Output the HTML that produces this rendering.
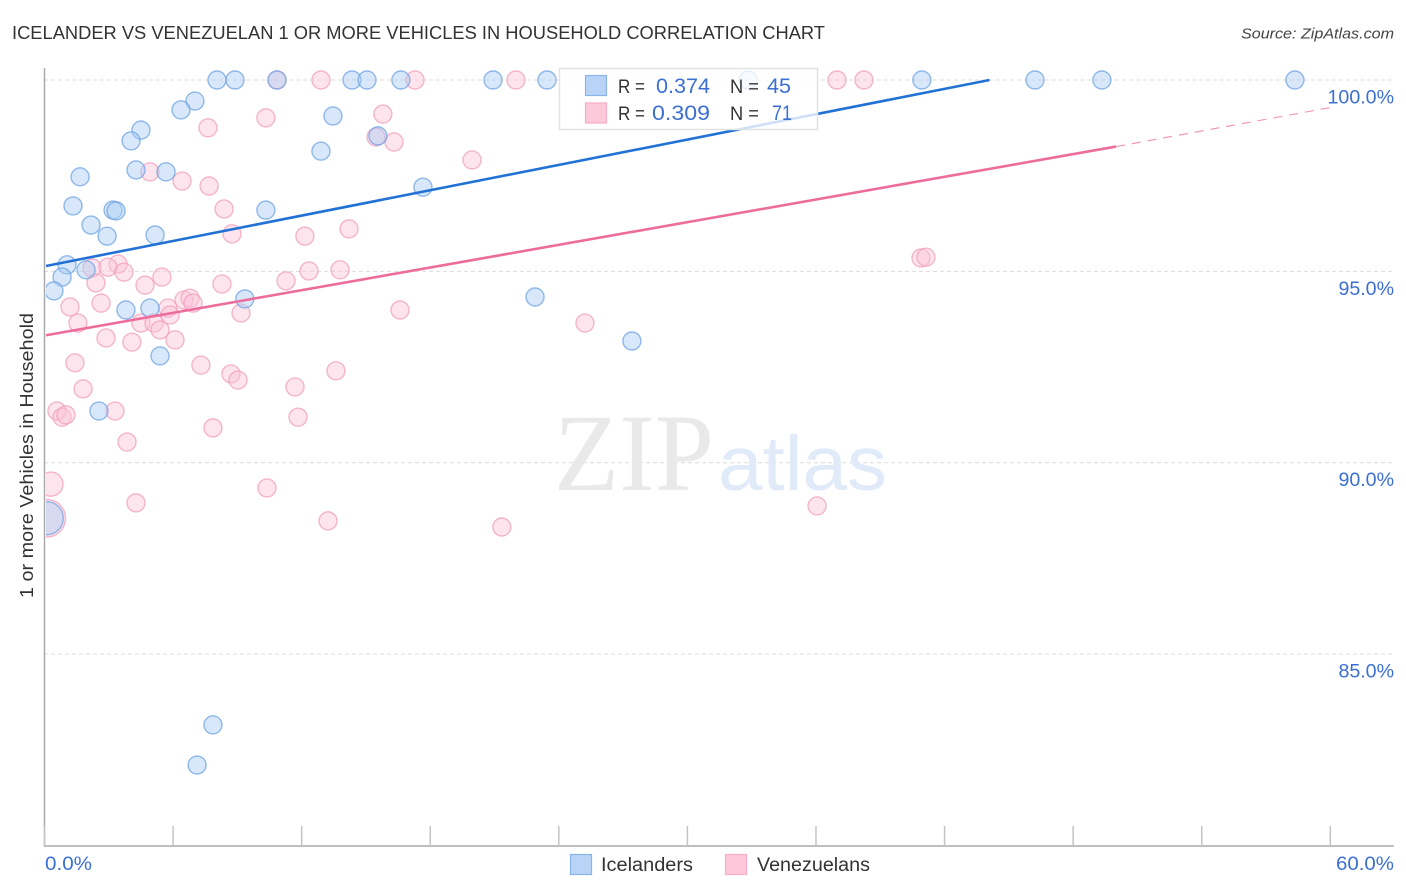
<!DOCTYPE html>
<html lang="en">
<head>
<meta charset="utf-8">
<title>Icelander vs Venezuelan chart</title>
<style>
html,body{margin:0;padding:0;background:#fff;}
body{width:1406px;height:892px;overflow:hidden;}
svg{display:block;font-family:"Liberation Sans",sans-serif;}
</style>
</head>
<body>
<svg id="chart" width="1406" height="892" viewBox="0 0 1406 892" xmlns="http://www.w3.org/2000/svg">
  <defs>
    <clipPath id="plot-clip"><rect x="46" y="60" width="1350" height="786"/></clipPath>
  </defs>
  <text x="12" y="39" font-size="18.5" fill="#333" textLength="813" lengthAdjust="spacingAndGlyphs">ICELANDER VS VENEZUELAN 1 OR MORE VEHICLES IN HOUSEHOLD CORRELATION CHART</text>
  <text x="1241" y="38.5" font-size="15" font-style="italic" fill="#444" textLength="153" lengthAdjust="spacingAndGlyphs">Source: ZipAtlas.com</text>

  <g id="grid"></g>

  <g>
    <text x="554" y="490" font-family="'Liberation Serif',serif" font-size="110" fill="#e9e9e9" textLength="160" lengthAdjust="spacingAndGlyphs">ZIP</text>
    <text x="718" y="490" font-size="77" fill="#e0eaf8" textLength="169" lengthAdjust="spacingAndGlyphs">atlas</text>
  </g>

  <g id="points" clip-path="url(#plot-clip)"></g>
  <g id="trends"></g>

  <line x1="44.5" y1="68" x2="44.5" y2="846" stroke="#aaa" stroke-width="1.5"/>
  <line x1="44" y1="846" x2="1394" y2="846" stroke="#aaa" stroke-width="1.5"/>
  <g id="xticks"></g>
  <g id="ylabels"></g>

  <text x="45" y="870" font-size="19" fill="#3b6fd4" textLength="47" lengthAdjust="spacingAndGlyphs">0.0%</text>
  <text x="1336" y="870" font-size="19" fill="#3b6fd4" textLength="58" lengthAdjust="spacingAndGlyphs">60.0%</text>
  <text transform="translate(33,598) rotate(-90)" font-size="18.5" fill="#333" textLength="285" lengthAdjust="spacingAndGlyphs">1 or more Vehicles in Household</text>

  <g>
    <rect x="559.5" y="68.5" width="258" height="61" fill="#fff" fill-opacity="0.78" stroke="#e2e2e2" stroke-width="1.5"/>
    <rect x="585.5" y="75.5" width="21" height="20" fill="#b8d3f6" stroke="#8ab3e8" stroke-width="1.2"/>
    <rect x="585.5" y="103" width="21" height="20" fill="#fdc9da" stroke="#f5aec6" stroke-width="1.2"/>
    <text x="618" y="93" font-size="19" fill="#333" textLength="27" lengthAdjust="spacingAndGlyphs">R =</text>
    <text x="656" y="93" font-size="21" fill="#3b6fd4" textLength="54" lengthAdjust="spacingAndGlyphs">0.374</text>
    <text x="730" y="93" font-size="19" fill="#333" textLength="29" lengthAdjust="spacingAndGlyphs">N =</text>
    <text x="767" y="93" font-size="21" fill="#3b6fd4" textLength="24" lengthAdjust="spacingAndGlyphs">45</text>
    <text x="618" y="120" font-size="19" fill="#333" textLength="27" lengthAdjust="spacingAndGlyphs">R =</text>
    <text x="652" y="120" font-size="21" fill="#3b6fd4" textLength="58" lengthAdjust="spacingAndGlyphs">0.309</text>
    <text x="730" y="120" font-size="19" fill="#333" textLength="29" lengthAdjust="spacingAndGlyphs">N =</text>
    <text x="772" y="120" font-size="21" fill="#3b6fd4" textLength="20" lengthAdjust="spacingAndGlyphs">71</text>
  </g>

  <g>
    <rect x="570.5" y="854.5" width="21" height="20" fill="#b8d3f6" stroke="#8ab3e8" stroke-width="1.2"/>
    <text x="601" y="871" font-size="19" fill="#333" textLength="92" lengthAdjust="spacingAndGlyphs">Icelanders</text>
    <rect x="725.5" y="854.5" width="21" height="20" fill="#fdc9da" stroke="#f5aec6" stroke-width="1.2"/>
    <text x="757" y="871" font-size="19" fill="#333" textLength="113" lengthAdjust="spacingAndGlyphs">Venezuelans</text>
  </g>
</svg>

<script>
const yTickValues = [100, 95, 90, 85];
const yTickLabels = ['100.0%', '95.0%', '90.0%', '85.0%'];
const xTickValues = [0, 6, 12, 18, 24, 30, 36, 42, 48, 54, 60];

const blueX = [8.05, 8.89, 10.85, 14.35, 15.05, 16.63, 20.93, 23.45, 32.83, 40.94, 46.22, 49.34, 58.35, 7.02, 6.37, 13.46, 4.50, 4.04, 12.90, 15.56, 4.27, 5.67, 1.66, 17.66, 1.33, 3.20, 3.34, 10.33, 2.17, 2.92, 5.16, 1.05, 1.94, 0.82, 0.44, 9.35, 22.89, 3.80, 4.92, 27.41, 5.39, 2.54, 0.10, 7.86, 7.12];
const blueY = [100, 100, 100, 100, 100, 100, 100, 100, 100, 100, 100, 100, 100, 99.45, 99.22, 99.06, 98.69, 98.41, 98.14, 98.54, 97.65, 97.60, 97.47, 97.20, 96.71, 96.60, 96.58, 96.60, 96.21, 95.92, 95.95, 95.17, 95.04, 94.85, 94.49, 94.28, 94.33, 93.99, 94.04, 93.18, 92.79, 91.35, 88.55, 83.15, 82.10];
const blueWeight = [1, 1, 1, 1, 1, 1, 1, 1, 1, 1, 1, 1, 1, 1, 1, 1, 1, 1, 1, 1, 1, 1, 1, 1, 1, 1, 1, 1, 1, 1, 1, 1, 1, 1, 1, 1, 1, 1, 1, 1, 1, 1, 3.4, 1, 1];

const pinkX = [10.85, 12.90, 17.29, 22.00, 36.98, 38.24, 15.79, 10.33, 7.63, 15.47, 16.31, 19.95, 4.92, 6.42, 7.68, 8.38, 14.21, 8.75, 12.15, 3.43, 2.22, 2.96, 3.71, 12.34, 13.79, 40.90, 41.13, 5.48, 11.27, 4.69, 2.40, 8.28, 1.19, 2.64, 6.51, 6.79, 6.93, 5.76, 5.86, 9.17, 16.59, 1.56, 4.50, 5.11, 5.39, 25.22, 2.87, 4.08, 6.09, 7.30, 1.42, 13.60, 8.70, 9.03, 11.69, 1.80, 0.58, 0.82, 1.00, 3.29, 11.83, 7.86, 3.85, 10.38, 0.30, 4.27, 13.23, 21.34, 36.05, 0.10];
const pinkY = [100, 100, 100, 100, 100, 100, 99.11, 99.01, 98.75, 98.51, 98.38, 97.91, 97.60, 97.36, 97.23, 96.63, 96.11, 95.98, 95.92, 95.19, 95.09, 95.11, 94.98, 95.01, 95.04, 95.35, 95.37, 94.85, 94.75, 94.64, 94.70, 94.67, 94.07, 94.17, 94.25, 94.30, 94.17, 94.04, 93.86, 93.91, 93.99, 93.65, 93.65, 93.65, 93.47, 93.65, 93.26, 93.15, 93.21, 92.55, 92.61, 92.40, 92.32, 92.16, 91.98, 91.93, 91.35, 91.19, 91.25, 91.35, 91.19, 90.91, 90.54, 89.34, 89.44, 88.95, 88.48, 88.32, 88.87, 88.55];
const pinkWeight = [1, 1, 1, 1, 1, 1, 1, 1, 1, 1, 1, 1, 1, 1, 1, 1, 1, 1, 1, 1, 1, 1, 1, 1, 1, 1, 1, 1, 1, 1, 1, 1, 1, 1, 1, 1, 1, 1, 1, 1, 1, 1, 1, 1, 1, 1, 1, 1, 1, 1, 1, 1, 1, 1, 1, 1, 1, 1, 1, 1, 1, 1, 1, 1, 1.8, 1, 1, 1, 1, 4.4];

const blueTrendX = [0.07, 44.1];
const blueTrendY = [95.14, 100];
const pinkTrendX = [0.07, 50.0];
const pinkTrendY = [93.33, 98.26];
const pinkTrendDashX = [50.0, 60.0];
const pinkTrendDashY = [98.26, 99.28];

const xScale = v => 44.5 + v * 21.43;
const yScale = v => 80 + (100 - v) * 38.27;
const rScale = w => 9 * Math.sqrt(w);
const NS = 'http://www.w3.org/2000/svg';

function make(tag, attrs, parent) {
  const el = document.createElementNS(NS, tag);
  Object.keys(attrs).forEach(k => el.setAttribute(k, attrs[k]));
  parent.appendChild(el);
  return el;
}

const grid = document.getElementById('grid');
yTickValues.forEach(v => {
  const line = make('line', {x1: 44, x2: 1394, y1: yScale(v), y2: yScale(v), stroke: '#dcdcdc', 'stroke-width': 1, 'stroke-dasharray': '4 3'}, grid);
  
  
});

const xticks = document.getElementById('xticks');
xTickValues.forEach(v => {
  const tick = make('line', {x1: xScale(v), x2: xScale(v), y1: 826, y2: 846, stroke: '#c4c4c4', 'stroke-width': 1.5}, xticks);
  
  
});

const ylabels = document.getElementById('ylabels');
yTickValues.forEach((v, i) => {
  const label = make('text', {x: 1394, y: yScale(v) + 23.5, 'text-anchor': 'end', 'font-size': 19.6, fill: '#3b6fd4'}, ylabels);
  label.textContent = yTickLabels[i];
  
  
});

const points = document.getElementById('points');
function drawSeries(xs, ys, weights, fill, stroke, name) {
  xs.forEach((x, i) => {
    const c = make('circle', {cx: xScale(x), cy: yScale(ys[i]), r: rScale(weights[i]), fill: fill, 'fill-opacity': 0.45, stroke: stroke, 'stroke-opacity': 0.75, 'stroke-width': 1.4}, points);
    
    
  });
}
drawSeries(pinkX, pinkY, pinkWeight, '#fbc4d6', '#f0a0bb', 'venezuelans-point');
drawSeries(blueX, blueY, blueWeight, '#a9cbf5', '#6fa3e3', 'icelanders-point');

const trends = document.getElementById('trends');
const blueTrend = make('line', {x1: xScale(blueTrendX[0]), y1: yScale(blueTrendY[0]), x2: xScale(blueTrendX[1]), y2: yScale(blueTrendY[1]), stroke: '#2272d6', 'stroke-width': 2.6}, trends);


const pinkTrend = make('line', {x1: xScale(pinkTrendX[0]), y1: yScale(pinkTrendY[0]), x2: xScale(pinkTrendX[1]), y2: yScale(pinkTrendY[1]), stroke: '#ec6d9c', 'stroke-width': 2.6}, trends);


const pinkDash = make('line', {x1: xScale(pinkTrendDashX[0]), y1: yScale(pinkTrendDashY[0]), x2: xScale(pinkTrendDashX[1]), y2: yScale(pinkTrendDashY[1]), stroke: '#f09ab8', 'stroke-width': 1.2, 'stroke-dasharray': '9 7'}, trends);


</script>
</body>
</html>
